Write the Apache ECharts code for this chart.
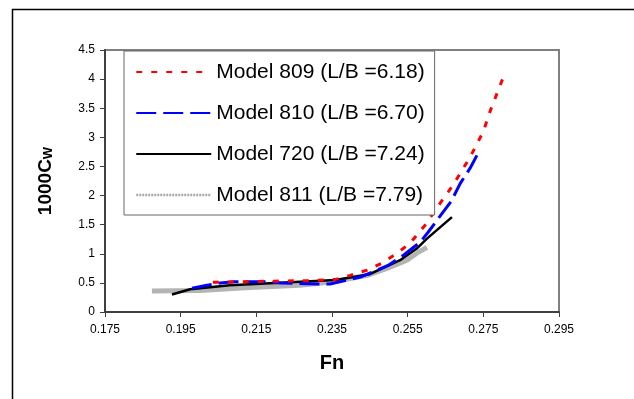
<!DOCTYPE html>
<html>
<head>
<meta charset="utf-8">
<script src="https://cdn.jsdelivr.net/npm/echarts@6/dist/echarts.min.js"></script>
<style>
  html, body { margin: 0; padding: 0; background: #fff; }
  #chart { width: 634px; height: 399px; }
</style>
</head>
<body>
<div id="chart"></div>
<script>
// Wave resistance coefficient (1000Cw) against Froude number for four hull models
const seriesNames = [
  'Model 809 (L/B =6.18)',
  'Model 810 (L/B =6.70)',
  'Model 720 (L/B =7.24)',
  'Model 811 (L/B =7.79)'
];

const fn809 = [0.2035, 0.2110, 0.2200, 0.2300, 0.2360, 0.2398, 0.2443, 0.2482, 0.2522, 0.2556, 0.2596, 0.2636, 0.2670, 0.2715, 0.2750, 0.2768, 0.2802];
const cw809 = [0.51, 0.52, 0.53, 0.54, 0.56, 0.63, 0.72, 0.84, 1.01, 1.18, 1.49, 1.87, 2.18, 2.66, 3.10, 3.45, 4.02];

const fn810 = [0.1980, 0.2020, 0.2055, 0.2090, 0.2140, 0.2170, 0.2215, 0.2310, 0.2345, 0.2425, 0.2498, 0.2538, 0.2583, 0.2604, 0.2644, 0.2665, 0.2689, 0.2715, 0.2733];
const cw810 = [0.41, 0.46, 0.50, 0.52, 0.52, 0.52, 0.50, 0.48, 0.48, 0.60, 0.80, 0.97, 1.20, 1.37, 1.72, 1.90, 2.21, 2.47, 2.69];

const fn720 = [0.1927, 0.1975, 0.2080, 0.2266, 0.2360, 0.2450, 0.2530, 0.2574, 0.2601, 0.2667];
const cw720 = [0.30, 0.39, 0.46, 0.52, 0.55, 0.65, 0.89, 1.09, 1.26, 1.63];

const fn811 = [0.1874, 0.2001, 0.2133, 0.2265, 0.2353, 0.2443, 0.2495, 0.2548, 0.2574, 0.2601];
const cw811 = [0.36, 0.37, 0.42, 0.46, 0.52, 0.63, 0.75, 0.89, 1.01, 1.11];

// x-axis tick labels: 0.175 ... 0.295 in steps of 0.02
const fnStart = 0.175;
const fnEnd = 0.295;
const fnStep = 0.02;
const cwMax = 4.5;
const cwStep = 0.5;

// the x axis runs from 0 at Fn = 0.175 so ticks line up with the interval
function pairs(fns, cws) {
  return fns.map((f, i) => [f - fnStart, cws[i]]);
}

const chart = echarts.init(document.getElementById('chart'), null, { renderer: 'canvas' });

const font = 'Arial, "Liberation Sans", sans-serif';

chart.setOption({
  animation: false,
  backgroundColor: '#ffffff',
  textStyle: { fontFamily: font, color: '#000' },
  graphic: [
    {
      type: 'rect',
      shape: { x: 12.5, y: 9.5, width: 700, height: 500 },
      style: { fill: 'none', stroke: '#000', lineWidth: 1.5 },
      silent: true,
      z: -10
    }
  ],
  grid: {
    left: 105, right: 75, top: 50, bottom: 87,
    show: true,
    borderColor: '#808080',
    borderWidth: 2,
    backgroundColor: 'transparent'
  },
  legend: {
    orient: 'vertical',
    left: 124,
    top: 51,
    padding: [10, 10, 9, 11],
    itemGap: 19,
    itemWidth: 75,
    itemHeight: 14,
    itemStyle: { opacity: 0 },
    backgroundColor: '#fff',
    borderColor: '#666',
    borderWidth: 1,
    borderRadius: 0,
    textStyle: { fontFamily: font, fontSize: 21, color: '#000', lineHeight: 22 },
    data: [
      { name: seriesNames[0] },
      { name: seriesNames[1] },
      { name: seriesNames[2] },
      { name: seriesNames[3], lineStyle: { width: 2.5, type: [2, 1], color: '#a8a8a8' } }
    ],
    z: 10
  },
  xAxis: {
    type: 'value',
    min: 0,
    max: fnEnd - fnStart,
    interval: fnStep,
    name: 'Fn',
    nameLocation: 'middle',
    nameGap: 41,
    nameTextStyle: { fontFamily: font, fontSize: 20, fontWeight: 'bold', color: '#000' },
    axisLine: { show: true, onZero: false, lineStyle: { color: '#404040', width: 2 } },
    axisTick: { show: true, inside: false, length: 5, lineStyle: { color: '#404040', width: 1 } },
    axisLabel: {
      margin: 12,
      fontFamily: font, fontSize: 12, color: '#000',
      formatter: v => (v + fnStart).toFixed(3)
    },
    splitLine: { show: false }
  },
  yAxis: {
    type: 'value',
    min: 0,
    max: cwMax,
    interval: cwStep,
    name: '{a|1000C}{b|W}',
    nameLocation: 'middle',
    nameGap: 50,
    nameTextStyle: {
      rich: {
        a: { fontFamily: font, fontSize: 19, fontWeight: 'bold', color: '#000' },
        b: { fontFamily: font, fontSize: 13, fontWeight: 'bold', color: '#000', verticalAlign: 'bottom', padding: [5, 0, 0, 0] }
      }
    },
    axisLine: { show: true, lineStyle: { color: '#404040', width: 2 } },
    axisTick: { show: true, inside: false, length: 5, lineStyle: { color: '#404040', width: 1 } },
    axisLabel: { margin: 10, fontFamily: font, fontSize: 12, color: '#000' },
    splitLine: { show: false }
  },
  series: [
    {
      name: seriesNames[3], type: 'line', symbol: 'none', z: 1,
      data: pairs(fn811, cw811),
      lineStyle: { color: '#b4b4b4', width: 5, type: 'solid' },
      itemStyle: { color: '#b4b4b4' }
    },
    {
      name: seriesNames[2], type: 'line', symbol: 'none', z: 2,
      data: pairs(fn720, cw720),
      lineStyle: { color: '#000', width: 2.5, type: 'solid' },
      itemStyle: { color: '#000' }
    },
    {
      name: seriesNames[1], type: 'line', symbol: 'none', z: 3,
      data: pairs(fn810, cw810),
      lineStyle: { color: '#0000ff', width: 3, type: [20, 7] },
      itemStyle: { color: '#0000ff' }
    },
    {
      name: seriesNames[0], type: 'line', symbol: 'none', z: 4,
      data: pairs(fn809, cw809),
      lineStyle: { color: '#ff0000', width: 3, type: [6, 9] },
      itemStyle: { color: '#ff0000' }
    }
  ]
});
</script>
</body>
</html>
